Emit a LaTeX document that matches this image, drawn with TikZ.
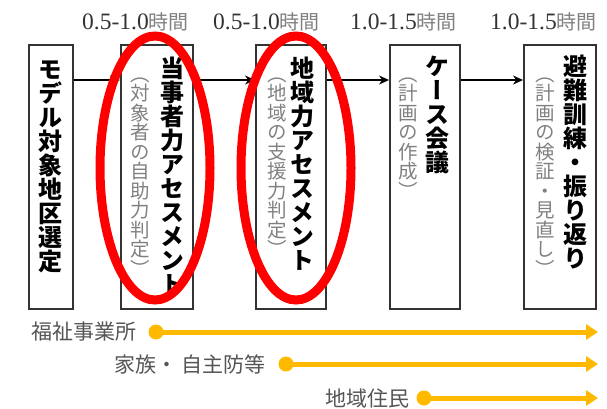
\documentclass[tikz,border=0pt]{standalone}
\usepackage{fontspec}
\setmainfont{Liberation Serif}
\newfontfamily\jp{Noto Sans CJK JP}
\newfontfamily\jpv[RawFeature=vertical]{Noto Sans CJK JP}
\usetikzlibrary{arrows.meta}
\definecolor{boxline}{HTML}{333333}
\definecolor{subgray}{HTML}{808080}
\definecolor{lblgray}{HTML}{555555}
\definecolor{amber}{HTML}{FFBA00}
\definecolor{hotred}{HTML}{FF0000}
\tikzset{
  stepbox/.style={draw=boxline, line width=1.6pt},
  maintxt/.style={rotate=-90, anchor=west, inner sep=0pt, text=black,
    font=\jpv\bfseries\fontsize{24}{24}\selectfont},
  subtxt/.style={rotate=-90, anchor=west, inner sep=0pt, text=subgray,
    font=\jpv\fontsize{19.5}{19.5}\selectfont},
  flow/.style={-{Stealth[length=10pt,width=9pt]}, line width=1.4pt, black},
  timelbl/.style={anchor=base west, inner sep=0pt, text=boxline,
    font=\fontsize{23.5}{23.5}\selectfont},
  actor/.style={anchor=east, inner sep=0pt, text=lblgray,
    font=\jp\fontsize{21}{21}\selectfont},
  actline/.style={line width=5pt, amber, -{Triangle[length=12pt,width=15pt]}}
}
\begin{document}
\begin{tikzpicture}[x=1pt,y=-1pt]
\useasboundingbox (0,0) rectangle (607,408);
% boxes
\node[stepbox, minimum width=44pt, minimum height=264pt, anchor=north west, inner sep=0pt] (b1) at (28,44) {};
\node[stepbox, minimum width=72pt, minimum height=264pt, anchor=north west, inner sep=0pt] (b2) at (120,44) {};
\node[stepbox, minimum width=70pt, minimum height=264pt, anchor=north west, inner sep=0pt] (b3) at (255,44) {};
\node[stepbox, minimum width=70pt, minimum height=264pt, anchor=north west, inner sep=0pt] (b4) at (389,44) {};
\node[stepbox, minimum width=72pt, minimum height=264pt, anchor=north west, inner sep=0pt] (b5) at (523,44) {};
% arrows
\draw[flow] (b1.east |- 0,80) -- (b2.west |- 0,80);
\draw[flow] (b2.east |- 0,80) -- (b3.west |- 0,80);
\draw[flow] (b3.east |- 0,80) -- (b4.west |- 0,80);
\draw[flow] (b4.east |- 0,80) -- (b5.west |- 0,80);
% box texts
\node[maintxt] (t1) at (60,57) {モデル対象地区選定};
\node[maintxt] (t2) at (182,56) {当事者力アセスメント};
\node[subtxt] (s2) at (148,64) {（対象者の自助力判定）};
\node[maintxt] (t3) at (312,56) {地域力アセスメント};
\node[subtxt] (s3) at (285,64) {（地域の支援力判定）};
\node[maintxt] (t4) at (447,54) {ケース会議};
\node[subtxt] (s4) at (416,64) {（計画の作成）};
\node[maintxt] (t5) at (585,54) {避難訓練・振り返り};
\node[subtxt] (s5) at (553,64) {（計画の検証・見直し）};
% time labels
\node[timelbl] (h1) at (82,29) {0.5-1.0{\jp\color{subgray}\fontsize{20}{20}\selectfont 時間}};
\node[timelbl] (h2) at (213,29) {0.5-1.0{\jp\color{subgray}\fontsize{20}{20}\selectfont 時間}};
\node[timelbl] (h3) at (350,29) {1.0-1.5{\jp\color{subgray}\fontsize{20}{20}\selectfont 時間}};
\node[timelbl] (h4) at (490,29) {1.0-1.5{\jp\color{subgray}\fontsize{20}{20}\selectfont 時間}};
% red ellipses
\draw[hotred, line width=9pt] (155,168) ellipse [x radius=55, y radius=132];
\draw[hotred, line width=9pt] (296,168) ellipse [x radius=55, y radius=132];
% actors
\coordinate (d1) at (156,332);
\coordinate (e1) at (598,332);
\coordinate (d2) at (286,364);
\coordinate (e2) at (598,364);
\coordinate (d3) at (424,398);
\coordinate (e3) at (598,398);
\node[actor] (a1) at (137,332) {福祉事業所};
\node[actor] (a2) at (266,364) {家族・ 自主防等};
\node[actor] (a3) at (410,398) {地域住民};
\draw[actline] (d1) -- (e1);
\draw[actline] (d2) -- (e2);
\draw[actline] (d3) -- (e3);
\fill[amber] (d1) circle (7.5);
\fill[amber] (d2) circle (7.5);
\fill[amber] (d3) circle (7.5);
\end{tikzpicture}
\end{document}
